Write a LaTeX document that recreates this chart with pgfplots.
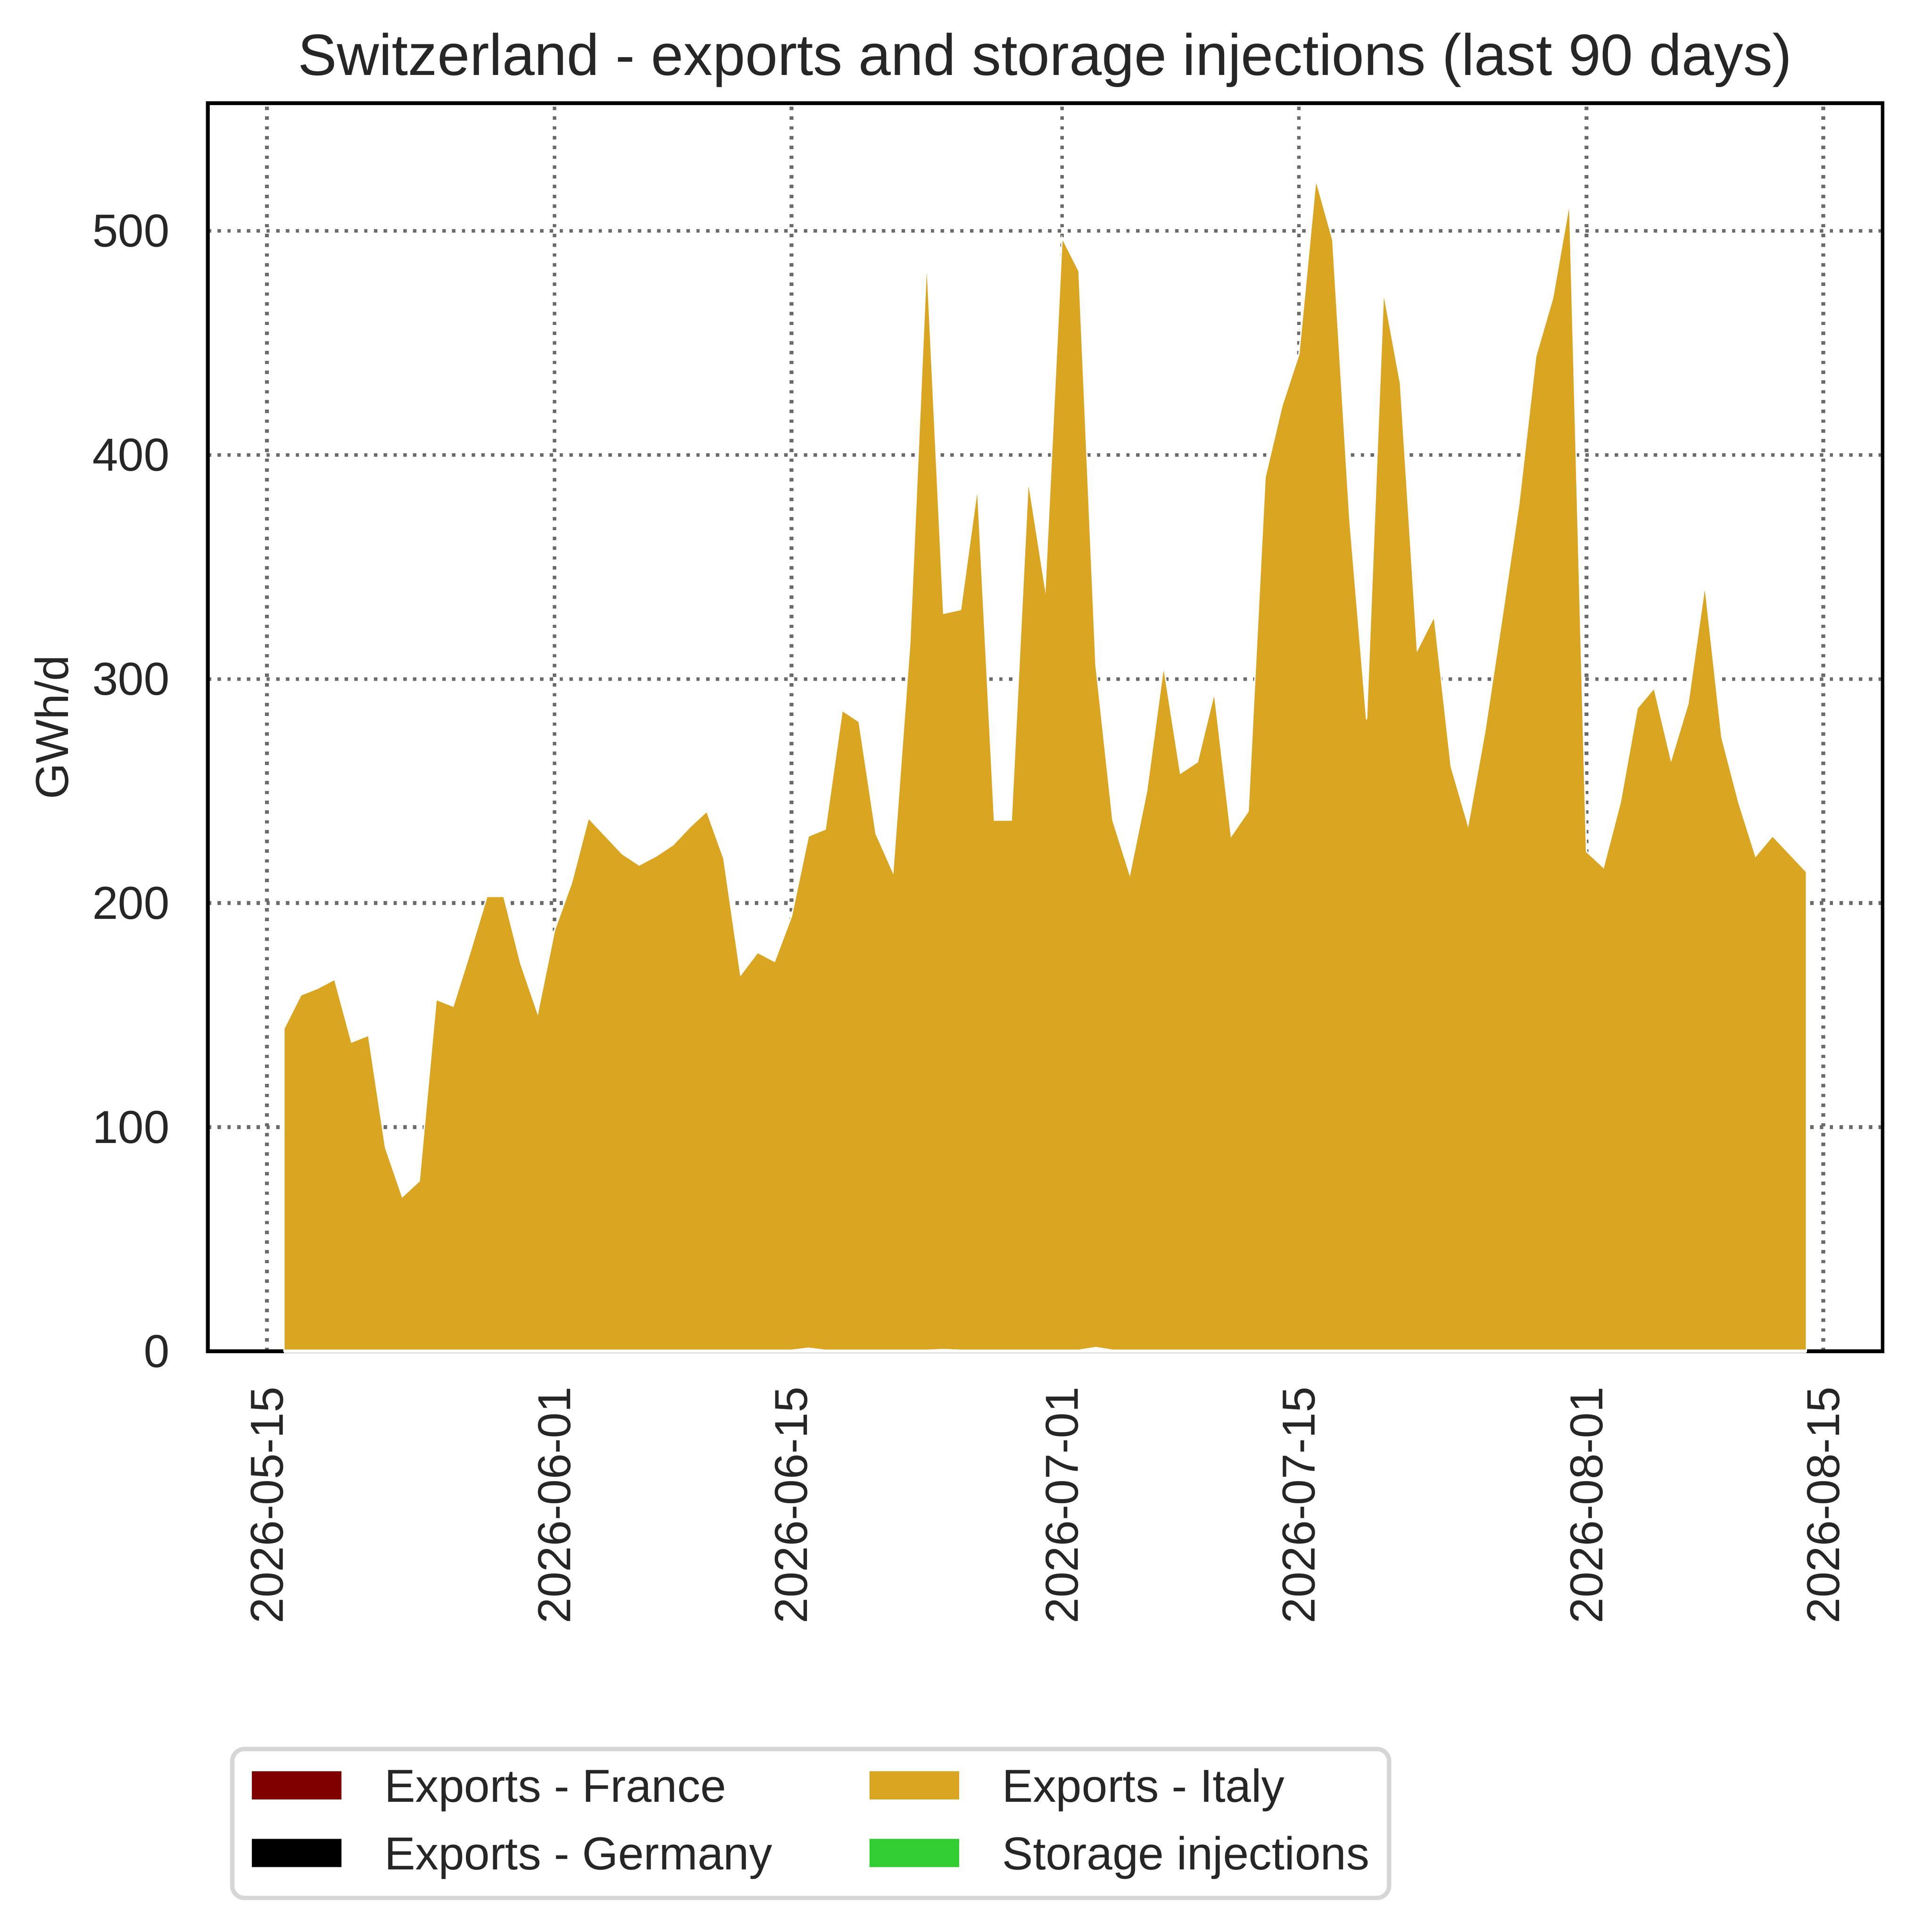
\documentclass[border=0pt]{standalone}
\usepackage{fontspec}
\setmainfont{Liberation Sans}
\usepackage{pgfplots}
\usepackage{pgfplotstable}
\pgfplotsset{compat=1.18}
\definecolor{fr}{HTML}{800000}
\definecolor{itc}{HTML}{DAA520}
\definecolor{stc}{HTML}{32CD32}
\definecolor{txt}{HTML}{262626}
\definecolor{gridc}{HTML}{6B6B6B}
\definecolor{legb}{HTML}{D6D6D6}

\pgfplotstableread{
x fr de it st
1 0 0 144 0
2 0 0 159 0
3 0 0 162 0
4 0 0 166 0
5 0 0 138 0
6 0 0 141 0
7 0 0 91 0
8 0 0 69 0
9 0 0 76 0
10 0 0 157 0
11 0 0 154 0
12 0 0 178 0
13 0 0 203 0
14 0 0 203 0
15 0 0 173 0
16 0 0 151 0
17 0 0 188 0
18 0 0 209 0
19 0 0 238 0
20 0 0 230 0
21 0 0 222 0
22 0 0 217 0
23 0 0 221 0
24 0 0 226 0
25 0 0 234 0
26 0 0 241 0
27 0 0 220 0
28 0 0 168 0
29 0 0 178 0
30 0 0 174 0
31 0 0 194 0
32 0.9 0 229 0
33 0 0 233 0
34 0 0 286 0
35 0 0 281 0
36 0 0 231 0
37 0 0 214 0
38 0 0 316 0
39 0 0 488 0
40 0.3 0 329 0
41 0 0 331 0
42 0 0 386 0
43 0 0 237 0
44 0 0 237 0
45 0 0 389 0
46 0 0 341 0
47 0 0 497 0
48 0 0 482 0
49 1.2 0 305 0
50 0 0 237 0
51 0 0 213 0
52 0 0 250 0
53 0 0 306 0
54 0 0 258 0
55 0 0 263 0
56 0 0 294 0
57 0 0 230 0
58 0 0 241 0
59 0 0 390 0
60 0 0 422 0
61 0 0 445 0
62 0 0 523 0
63 0 0 496 0
64 0 0 372 0
65 0 0 282 0
66 0 0 473 0
67 0 0 432 0
68 0 0 313 0
69 0 0 328 0
70 0 0 261 0
71 0 0 235 0
72 0 0 277 0
73 0 0 327 0
74 0 0 378 0
75 0 0 444 0
76 0 0 470 0
77 0 0 513 0
78 0 0 223 0
79 0 0 216 0
80 0 0 245 0
81 0 0 287 0
82 0 0 296 0
83 0 0 264 0
84 0 0 289 0
85 0 0 342 0
86 0 0 274 0
87 0 0 245 0
88 0 0 221 0
89 0 0 230 0
90 0 0 222 0
91 0 0 214 0
}\data

\begin{document}
\begin{tikzpicture}
\begin{axis}[
  scale only axis,
  width=136.27mm, height=101.53mm,
  xmin=-3.5, xmax=95.5, ymin=0, ymax=557,
  clip=false,
  axis line style={draw=none},
  xtick={0,17,31,47,61,78,92},
  xticklabels={2026-05-15,2026-06-01,2026-06-15,2026-07-01,2026-07-15,2026-08-01,2026-08-15},
  ytick={0,100,200,300,400,500},
  major tick length=0pt,
  grid=major,
  major grid style={gridc, line width=0.85pt, dash pattern=on 0.275mm off 0.52mm},
  tick label style={font=\fontsize{10.7}{12}\selectfont, text=txt},
  /pgf/number format/assume math mode=true,
  xticklabel style={rotate=90, anchor=east, inner sep=0pt},
  xticklabel shift=2.82mm,
  yticklabel style={anchor=east, inner sep=0pt},
  yticklabel shift=3.04mm,
  ylabel={GWh/d},
  ylabel style={at={(axis description cs:-0.0932,0.5)}, anchor=center, font=\fontsize{10.7}{12}\selectfont, text=txt, inner sep=0pt},
  title={Switzerland - exports and storage injections (last 90 days)},
  title style={at={(axis description cs:0.5,1)}, anchor=base, yshift=0.16mm, font=\fontsize{13.5}{16}\selectfont, text=txt, inner sep=0pt},
  stack plots=y,
  legend columns=2,
  legend cell align=left,
  legend image code/.code={\fill[#1, draw=none, sharp corners] (0mm,-0.8mm) rectangle (7.3mm,1.51mm);},
  legend style={at={(axis description cs:0,0)}, anchor=north west, xshift=1.99mm, yshift=-32.35mm,
    draw=legb, line width=1pt, rounded corners=1mm, fill=white, outer sep=0pt,
    inner xsep=1.59mm, inner ysep=0.56mm,
    font=\fontsize{10.7}{12}\selectfont, text=txt,
    nodes={inner sep=0pt, text height=3.76mm, text depth=1.74mm},
    /tikz/every odd column/.append style={column sep=3.5mm},
    /tikz/every even column/.append style={column sep=7.9mm},
    row sep=0pt},
]
\addplot[fill=fr, draw=white, line width=0.8pt, forget plot] table[x=x, y=fr]{\data} \closedcycle;
\addplot[fill=black, draw=white, line width=0.3pt, forget plot] table[x=x, y=de]{\data} \closedcycle;
\addplot[fill=itc, draw=white, line width=0.3pt, forget plot] table[x=x, y=it]{\data} \closedcycle;
\addplot[fill=stc, draw=white, line width=0.3pt, forget plot] table[x=x, y=st]{\data} \closedcycle;
\addlegendimage{fill=fr}
\addlegendentry{Exports - France}
\addlegendimage{fill=itc}
\addlegendentry{Exports - Italy}
\addlegendimage{fill=black}
\addlegendentry{Exports - Germany}
\addlegendimage{fill=stc}
\addlegendentry{Storage injections}
\draw[line width=0.86pt, black] (rel axis cs:0,0) rectangle (rel axis cs:1,1);
\coordinate (ll) at (rel axis cs:0,0);
\coordinate (ur) at (rel axis cs:1,1);
\end{axis}
\pgfresetboundingbox
\path[use as bounding box] ([shift={(-16.91mm,-47.24mm)}]ll) rectangle ([shift={(2.72mm,8.39mm)}]ur);
\end{tikzpicture}
\end{document}
